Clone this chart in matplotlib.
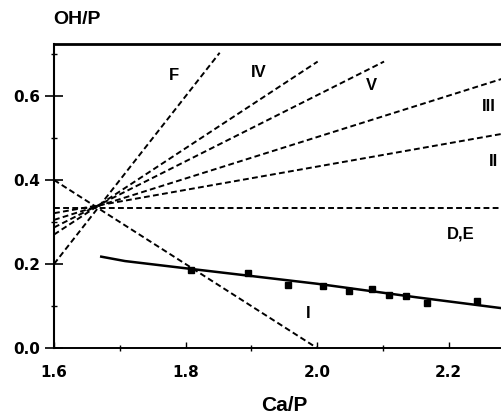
import numpy as np
import matplotlib
matplotlib.use("Agg")
import matplotlib.pyplot as plt
from matplotlib.ticker import MultipleLocator

# Substitution lines, each given by its two end points (Ca/P, OH/P)
lineNames = ["F", "IV", "V", "III", "II", "D,E", "I"]
lineStart = [(1.600, 0.200), (1.600, 0.270), (1.600, 0.287), (1.600, 0.305),
             (1.600, 0.321), (1.600, 0.334), (1.600, 0.400)]
lineEnd   = [(1.852, 0.703), (2.001, 0.682), (2.102, 0.682), (2.300, 0.650),
             (2.300, 0.515), (2.300, 0.334), (2.000, 0.000)]

# where each line's name is written
labelPos = [(1.782, 0.648), (1.912, 0.656), (2.083, 0.626), (2.262, 0.575),
            (2.268, 0.443), (2.219, 0.272), (1.987, 0.083)]

# measured samples
caP = [1.809, 1.895, 1.956, 2.009, 2.049, 2.084, 2.110, 2.135, 2.168, 2.244]
ohP = [0.186, 0.179, 0.150, 0.148, 0.136, 0.140, 0.127, 0.123, 0.106, 0.112]

# trend through the samples
trendX = [1.670, 1.708, 1.810, 2.000, 2.150, 2.300]
trendY = [0.218, 0.207, 0.188, 0.153, 0.121, 0.091]

W, H = 502, 415
fig = plt.figure(figsize=(W / 100, H / 100), dpi=100)
ax = fig.add_axes([54 / W, 1 - 348 / H, 1 - 54 / W, (348 - 44) / H])

for (x0, y0), (x1, y1) in zip(lineStart, lineEnd):
    ax.plot([x0, x1], [y0, y1], color="black", lw=1.4, ls=(0, (3.0, 1.7)),
            clip_on=False)

ax.plot(trendX, trendY, color="black", lw=1.8, solid_capstyle="butt")
ax.plot(caP, ohP, ls="none", marker="s", ms=4.8, color="black")

for name, (tx, ty) in zip(lineNames, labelPos):
    ax.text(tx, ty, name, fontsize=12, fontweight="bold", family="Liberation Sans",
            ha="center", va="center")

ax.set_xlim(1.6, 1.6 + (W - 54) / 657.5)
ax.set_ylim(0.0, (348 - 44) / 420)

ax.spines["right"].set_visible(False)
ax.spines["top"].set_linewidth(2.0)
ax.spines["left"].set_linewidth(1.5)
ax.spines["bottom"].set_linewidth(1.4)

ax.xaxis.set_major_locator(MultipleLocator(0.2))
ax.xaxis.set_minor_locator(MultipleLocator(0.1))
ax.yaxis.set_major_locator(MultipleLocator(0.2))
ax.yaxis.set_minor_locator(MultipleLocator(0.1))
ax.xaxis.set_major_formatter(matplotlib.ticker.FormatStrFormatter("%.1f"))
ax.yaxis.set_major_formatter(matplotlib.ticker.FormatStrFormatter("%.1f"))

ax.tick_params(axis="y", which="major", direction="inout", length=13.5, width=1.2, pad=3.2)
ax.tick_params(axis="y", which="minor", direction="inout", length=5, width=1.0)
ax.tick_params(axis="x", which="major", direction="in", length=4.5, width=1.0, pad=12)
ax.tick_params(axis="x", which="minor", direction="inout", length=4, width=1.0)
ax.tick_params(top=False, right=False, which="both")

for lab in ax.get_xticklabels() + ax.get_yticklabels():
    lab.set_family("DejaVu Sans")
    lab.set_fontweight("bold")
    lab.set_fontsize(11)

fig.text(77 / W, 1 - 20 / H, "OH/P", fontsize=14, fontweight="bold",
         family="Liberation Sans", ha="center", va="center")
fig.text(284 / W, 1 - 405 / H, "Ca/P", fontsize=15, fontweight="bold",
         family="Liberation Sans", ha="center", va="center")

fig.savefig("out.png", dpi=100)
